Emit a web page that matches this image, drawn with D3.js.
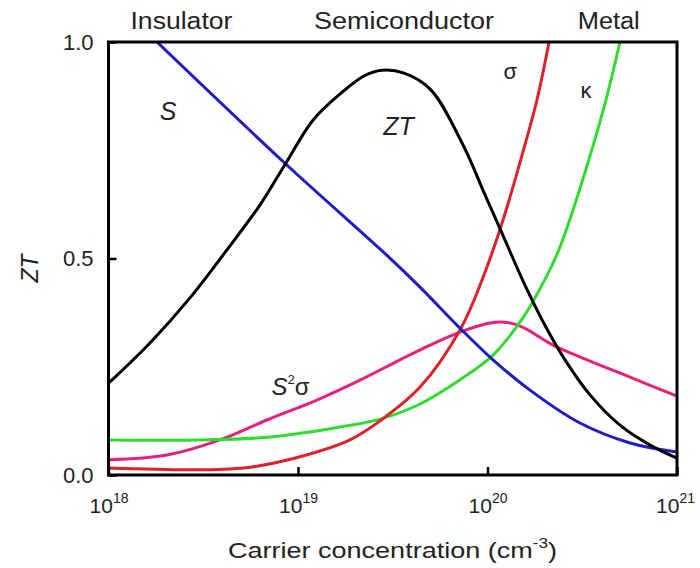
<!DOCTYPE html>
<html><head><meta charset="utf-8">
<script src="https://cdn.jsdelivr.net/npm/d3@7"></script>
<style>
body{margin:0;background:#fff;}
text{font-family:"Liberation Sans",Arial,sans-serif;fill:#222;}
</style></head>
<body><svg id="c" width="700" height="568"></svg>
<script>
// log10(carrier concentration) and values (normalized)
const ztLog = [18.0,18.219,18.43,18.625,18.80,18.93,19.08,19.222,19.35,19.443,19.56,19.70,19.871,19.987,20.092,20.197,20.303,20.409,20.541,20.699,20.858,21.0];
const ztVal = [0.212,0.305,0.409,0.520,0.624,0.716,0.820,0.880,0.922,0.935,0.928,0.890,0.762,0.647,0.543,0.439,0.346,0.266,0.185,0.115,0.069,0.039];
const sLog = [18.256,18.931,19.485,19.644,19.855,20.029,20.224,20.488,20.752,21.0];
const sVal = [1.0,0.720,0.501,0.434,0.339,0.266,0.196,0.120,0.074,0.053];
const sigLog = [18.0,18.483,18.747,19.011,19.274,19.433,19.644,19.855,19.971,20.082,20.187,20.261,20.325];
const sigVal = [0.016,0.012,0.018,0.042,0.081,0.125,0.203,0.335,0.450,0.589,0.746,0.866,1.0];
const kapLog = [18.0,18.483,18.836,19.185,19.433,19.644,19.855,20.029,20.187,20.288,20.372,20.446,20.530,20.625,20.699];
const kapVal = [0.081,0.081,0.087,0.108,0.129,0.164,0.220,0.277,0.363,0.439,0.515,0.605,0.721,0.866,1.0];
const pfLog = [18.0,18.309,18.588,18.836,19.10,19.327,19.538,19.697,19.855,20.013,20.092,20.182,20.346,20.525,20.752,21.0];
const pfVal = [0.035,0.046,0.081,0.127,0.173,0.219,0.266,0.300,0.330,0.351,0.353,0.342,0.300,0.266,0.226,0.182];
const xTicks = [18,19,20,21];
const yTicks = [0.0,0.5,1.0];
const regions = ["Insulator","Semiconductor","Metal"];
const regionPos = [18.385,19.56,20.64];
const regionW = [102,180,62];

const svg = d3.select("#c");
const L=108.5, R=677, T=42, B=475;
const x = d3.scaleLinear().domain([18,21]).range([L,R]);
const y = d3.scaleLinear().domain([0,1]).range([B,T]);

svg.append("clipPath").attr("id","clip").append("rect").attr("x",L).attr("y",T).attr("width",R-L).attr("height",B-T);

const line = d3.line().x(d=>x(d[0])).y(d=>y(d[1])).curve(d3.curveCatmullRom.alpha(0.5));
const series = [
  [pfLog,pfVal,"#e6207f"],
  [kapLog,kapVal,"#30dc30"],
  [sigLog,sigVal,"#e0202a"],
  [sLog,sVal,"#1c1cc8"],
  [ztLog,ztVal,"#000000"]
];
const g = svg.append("g").attr("clip-path","url(#clip)");
series.forEach(s=>{
  g.append("path").datum(d3.zip(s[0],s[1])).attr("d",line)
   .attr("fill","none").attr("stroke",s[2]).attr("stroke-width",3).attr("stroke-linejoin","round");
});

// axes
const ya = svg.append("g").attr("transform",`translate(${L},0)`)
  .call(d3.axisLeft(y).tickValues(yTicks).tickSize(-8).tickPadding(15).tickFormat(d3.format(".1f")));
ya.select(".domain").remove();
ya.selectAll("line").attr("stroke","#000").attr("stroke-width",2.5);
ya.selectAll("text").attr("font-size",22).attr("fill","#222").style("font-family","Liberation Sans, Arial");

const xa = svg.append("g").attr("transform",`translate(0,${B})`)
  .call(d3.axisBottom(x).tickValues(xTicks).tickSize(-8).tickFormat(""));
xa.select(".domain").remove();
xa.selectAll("line").attr("stroke","#000").attr("stroke-width",2.5);
xa.selectAll(".tick").each(function(d){
  const t = d3.select(this).select("text").attr("font-size",21).attr("fill","#222")
    .style("font-family","Liberation Sans, Arial").attr("y",38).attr("dy",0).attr("dx",d===21?-2:0);
  t.text(null);
  t.append("tspan").text("10");
  t.append("tspan").attr("font-size",14).attr("dy",-10).text(d);
});

// frame
svg.append("rect").attr("x",L).attr("y",T).attr("width",R-L).attr("height",B-T)
  .attr("fill","none").attr("stroke","#000").attr("stroke-width",3);

// region labels
regions.forEach((r,i)=>{
  svg.append("text").attr("x",x(regionPos[i])).attr("y",29).attr("text-anchor","middle")
    .attr("font-size",23).attr("textLength",regionW[i]).attr("lengthAdjust","spacingAndGlyphs").text(r);
});

// curve labels
svg.append("text").attr("x",x(18.315)).attr("y",y(0.82)).attr("font-size",25).attr("font-style","italic").attr("text-anchor","middle").text("S");
svg.append("text").attr("x",x(19.53)).attr("y",y(0.785)).attr("font-size",25).attr("font-style","italic").attr("text-anchor","middle").text("ZT");
svg.append("text").attr("x",x(20.12)).attr("y",y(0.915)).attr("font-size",22).attr("text-anchor","middle").text("σ");
svg.append("text").attr("x",x(20.52)).attr("y",y(0.87)).attr("font-size",22).attr("text-anchor","middle").text("κ");
const pl = svg.append("text").attr("x",x(18.86)).attr("y",y(0.185)).attr("font-size",24);
pl.append("tspan").attr("font-style","italic").text("S");
pl.append("tspan").attr("font-size",13).attr("dy",-11).text("2");
pl.append("tspan").attr("dy",11).text("σ");

// axis titles
svg.append("text").attr("transform",`translate(38,${(T+B)/2+10}) rotate(-90)`).attr("text-anchor","middle")
  .attr("font-size",23).attr("font-style","italic").text("ZT");
const xt = svg.append("text").attr("x",228).attr("y",558).attr("font-size",22)
  .attr("textLength",329).attr("lengthAdjust","spacingAndGlyphs");
xt.append("tspan").text("Carrier concentration (cm");
xt.append("tspan").attr("font-size",14).attr("dy",-10).text("-3");
xt.append("tspan").attr("dy",10).text(")");
</script></body></html>
